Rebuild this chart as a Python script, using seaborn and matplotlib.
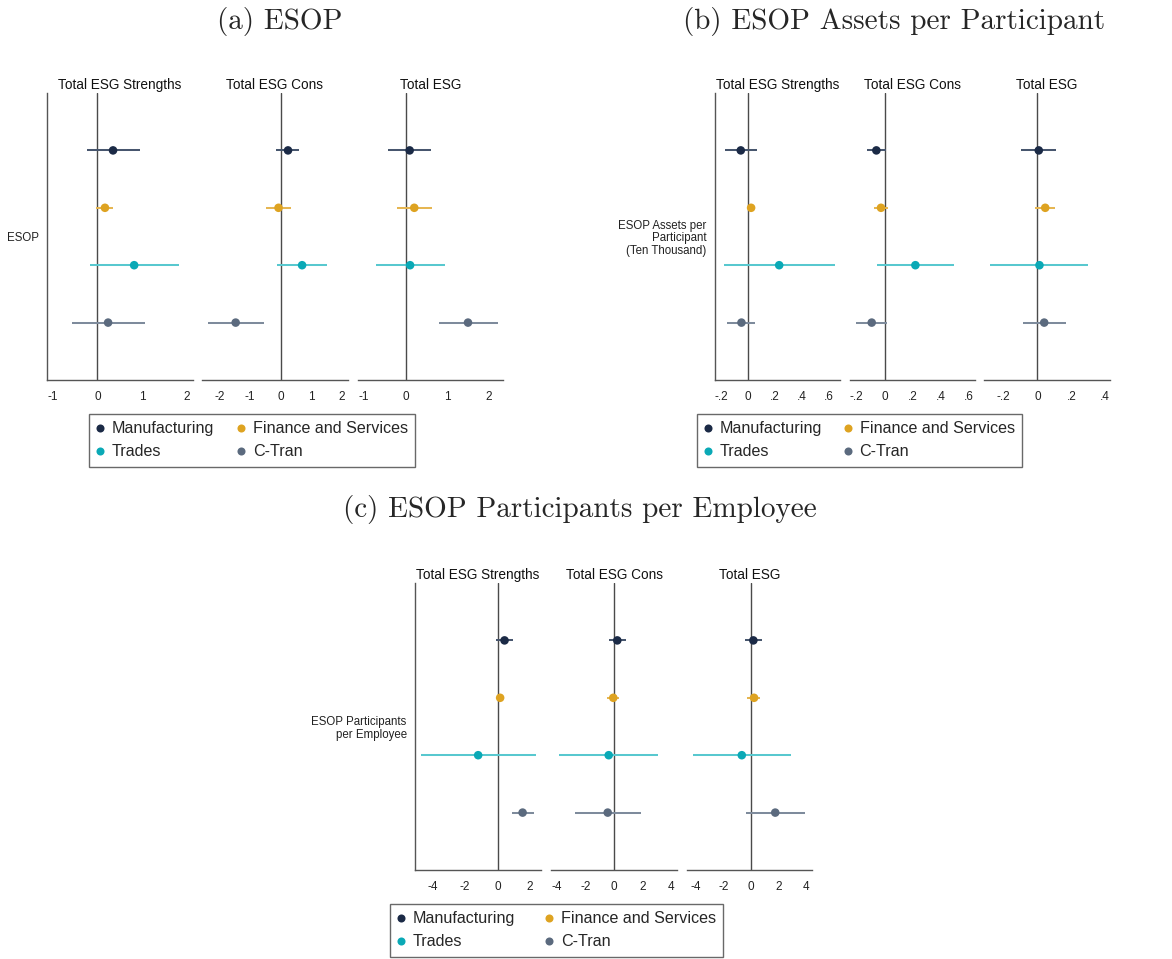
import matplotlib
matplotlib.use("Agg")
import matplotlib.pyplot as plt
from matplotlib.lines import Line2D
import seaborn as sns
import pandas as pd

# Sector groups and outcome measures
groups = ["Manufacturing", "Finance and Services", "Trades", "C-Tran"]
outcomes = ["Total ESG Strengths", "Total ESG Cons", "Total ESG"]

# (a) ESOP indicator: coefficient, lower and upper 95% bounds per outcome
esop_coef = [[0.35, 0.17, 0.82, 0.24], [0.24, -0.07, 0.70, -1.47], [0.10, 0.21, 0.11, 1.50]]
esop_lo = [[-0.23, -0.02, -0.17, -0.56], [-0.14, -0.47, -0.13, -2.37], [-0.41, -0.21, -0.72, 0.80]]
esop_hi = [[0.94, 0.36, 1.81, 1.06], [0.61, 0.35, 1.52, -0.55], [0.61, 0.63, 0.95, 2.21]]

# (b) ESOP assets per participant (ten thousand)
assets_coef = [[-0.052, 0.025, 0.234, -0.047], [-0.059, -0.026, 0.218, -0.092], [0.008, 0.046, 0.012, 0.040]]
assets_lo = [[-0.169, -0.007, -0.179, -0.154], [-0.125, -0.073, -0.052, -0.206], [-0.095, -0.012, -0.277, -0.085]]
assets_hi = [[0.067, 0.057, 0.650, 0.057], [0.009, 0.021, 0.492, 0.019], [0.111, 0.105, 0.301, 0.166]]

# (c) ESOP participants per employee
part_coef = [[0.43, 0.16, -1.19, 1.54], [0.23, -0.05, -0.37, -0.44], [0.17, 0.22, -0.67, 1.76]]
part_lo = [[-0.10, -0.04, -4.70, 0.86], [-0.33, -0.47, -3.82, -2.75], [-0.43, -0.27, -4.24, -0.39]]
part_hi = [[0.94, 0.35, 2.34, 2.22], [0.82, 0.37, 3.05, 1.86], [0.80, 0.67, 2.87, 3.93]]

# Tick values and labels for each panel's x axes
ticks_a = [[-1, 0, 1, 2], [-2, -1, 0, 1, 2], [-1, 0, 1, 2]]
labels_a = [["-1", "0", "1", "2"], ["-2", "-1", "0", "1", "2"], ["-1", "0", "1", "2"]]
ticks_b = [[-0.2, 0, 0.2, 0.4, 0.6], [-0.2, 0, 0.2, 0.4, 0.6], [-0.2, 0, 0.2, 0.4]]
labels_b = [["-.2", "0", ".2", ".4", ".6"], ["-.2", "0", ".2", ".4", ".6"], ["-.2", "0", ".2", ".4"]]
ticks_c = [[-4, -2, 0, 2], [-4, -2, 0, 2, 4], [-4, -2, 0, 2, 4]]
labels_c = [["-4", "-2", "0", "2"], ["-4", "-2", "0", "2", "4"], ["-4", "-2", "0", "2", "4"]]

panel_titles = ["(a) ESOP", "(b) ESOP Assets per Participant", "(c) ESOP Participants per Employee"]
row_labels = ["ESOP", "ESOP Assets per\nParticipant\n(Ten Thousand)", "ESOP Participants\nper Employee"]

colors = {"Manufacturing": "#1b2a46", "Finance and Services": "#dea321",
          "Trades": "#0aa9b6", "C-Tran": "#5b6a7e"}
line_colors = {"Manufacturing": "#47566e", "Finance and Services": "#e6b652",
               "Trades": "#58c8cf", "C-Tran": "#7e8b9c"}

sns.set_theme(style="white")
plt.rcParams["font.family"] = ["Liberation Sans", "DejaVu Sans"]

W, H = 1172, 959
fig = plt.figure(figsize=(W / 100, H / 100), dpi=100)


def add_px_axes(x0, x1, y0, y1):
    return fig.add_axes([x0 / W, 1 - y1 / H, (x1 - x0) / W, (y1 - y0) / H])


panels = [
    dict(coef=esop_coef, lo=esop_lo, hi=esop_hi, ticks=ticks_a, labels=labels_a,
         boxes=[(47, 193), (202, 348), (358, 503)], y=(93, 380),
         xlims=[(-1.12, 2.13), (-2.57, 2.2), (-1.14, 2.34)]),
    dict(coef=assets_coef, lo=assets_lo, hi=assets_hi, ticks=ticks_b, labels=labels_b,
         boxes=[(715, 840), (850, 975), (984, 1110)], y=(93, 380),
         xlims=[(-0.244, 0.687), (-0.246, 0.641), (-0.315, 0.428)]),
    dict(coef=part_coef, lo=part_lo, hi=part_hi, ticks=ticks_c, labels=labels_c,
         boxes=[(415, 541), (551, 677), (687, 812)], y=(583, 870),
         xlims=[(-5.07, 2.67), (-4.41, 4.41), (-4.65, 4.43)]),
]

spine_col = "#555555"

for p_idx, p in enumerate(panels):
    for o_idx, outcome in enumerate(outcomes):
        x0, x1 = p["boxes"][o_idx]
        ax = add_px_axes(x0, x1, p["y"][0], p["y"][1])
        df = pd.DataFrame({
            "group": groups,
            "row": [1, 2, 3, 4],
            "coef": p["coef"][o_idx],
            "lo": p["lo"][o_idx],
            "hi": p["hi"][o_idx],
        })
        ax.axvline(0, color="#4a4a4a", lw=1.0, zorder=1)
        for _, r in df.iterrows():
            ax.hlines(r["row"], r["lo"], r["hi"], color=line_colors[r["group"]], lw=1.45, zorder=2)
        sns.scatterplot(data=df, x="coef", y="row", hue="group", palette=colors,
                        s=38, edgecolor="none", legend=False, ax=ax, zorder=3)
        ax.set_ylim(5, 0)
        ax.set_xlim(*p["xlims"][o_idx])
        ax.set_xticks(p["ticks"][o_idx])
        ax.set_xticklabels(p["labels"][o_idx], fontsize=8.5, color="#222222")
        ax.set_xlabel("")
        ax.set_ylabel("")
        ax.set_title(outcome, fontsize=9.8, pad=3, color="#111111")
        for side in ["top", "right"]:
            ax.spines[side].set_visible(False)
        ax.spines["bottom"].set_color(spine_col)
        ax.spines["bottom"].set_linewidth(1.0)
        ax.tick_params(axis="x", direction="out", length=4, width=0.8, color=spine_col, pad=4)
        if o_idx == 0:
            ax.spines["left"].set_color(spine_col)
            ax.spines["left"].set_linewidth(1.0)
            ax.set_yticks([2.5])
            ax.set_yticklabels([row_labels[p_idx]], fontsize=8.3, color="#222222",
                               linespacing=1.1)
            ax.tick_params(axis="y", direction="out", length=4, width=0.8, color=spine_col, pad=2)
        else:
            ax.spines["left"].set_visible(False)
            ax.set_yticks([])

# Panel headings
fig.text(280 / W, 1 - 21 / H, panel_titles[0], family="cmr10", fontsize=21, ha="center", va="center")
fig.text(894 / W, 1 - 21 / H, panel_titles[1], family="cmr10", fontsize=21, ha="center", va="center")
fig.text(580 / W, 1 - 509 / H, panel_titles[2], family="cmr10", fontsize=21, ha="center", va="center")

# Legends (row order: Manufacturing, Finance / Trades, C-Tran)
order = ["Manufacturing", "Trades", "Finance and Services", "C-Tran"]
handles = [Line2D([], [], marker="o", ls="none", markersize=5.8, color=colors[g],
                  markeredgewidth=0) for g in order]
for (lx0, lx1, ly0, ly1) in [(89, 415, 414, 468), (697, 1022, 414, 468), (390, 723, 904, 958)]:
    leg = fig.legend(handles, order, ncol=2, loc="upper left",
                     bbox_to_anchor=(lx0 / W, 1 - ly1 / H, (lx1 - lx0) / W, (ly1 - ly0) / H),
                     mode="expand", fontsize=11.6, frameon=True, fancybox=False,
                     handletextpad=0.45, handlelength=0.5, labelspacing=0.5,
                     columnspacing=0.6, borderpad=0.45, borderaxespad=0)
    leg.get_frame().set_edgecolor("#444444")
    leg.get_frame().set_linewidth(1.0)

fig.savefig("out.png", dpi=100)
